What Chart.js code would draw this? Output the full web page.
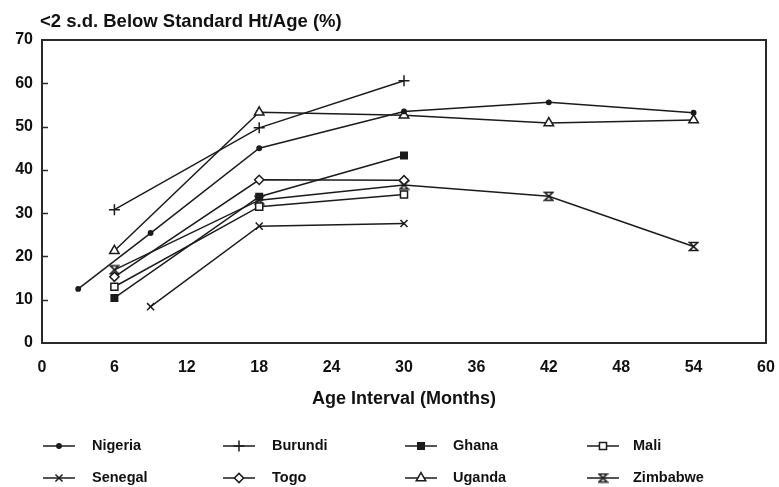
<!DOCTYPE html>
<html><head><meta charset="utf-8">
<script src="https://cdn.jsdelivr.net/npm/chart.js@4.4.0/dist/chart.umd.min.js"></script>
<style>html,body{margin:0;padding:0;background:#fff;}#wrap{width:779px;height:487px;position:relative;}</style>
</head><body><div id="wrap"><canvas id="c" width="779" height="487"></canvas></div>
<script>
// ---- data ----
const countries = ['Nigeria', 'Burundi', 'Ghana', 'Mali', 'Senegal', 'Togo', 'Uganda', 'Zimbabwe'];
const agesNigeria = [3, 9, 18, 30, 42, 54];
const nigeria = [12.5, 25.4, 45, 53.5, 55.6, 53.2];
const agesBurundi = [6, 18, 30];
const burundi = [30.8, 49.7, 60.6];
const agesGhana = [6, 18, 30];
const ghana = [10.4, 33.8, 43.3];
const agesMali = [6, 18, 30];
const mali = [13.0, 31.5, 34.3];
const agesSenegal = [9, 18, 30];
const senegal = [8.4, 27.0, 27.6];
const agesTogo = [6, 18, 30];
const togo = [15.3, 37.7, 37.6];
const agesUganda = [6, 18, 30, 42, 54];
const uganda = [21.3, 53.3, 52.6, 50.8, 51.5];
const agesZimbabwe = [6, 18, 30, 42, 54];
const zimbabwe = [16.9, 33.0, 36.5, 33.9, 22.3];
const xTickValues = [0, 6, 12, 18, 24, 30, 36, 42, 48, 54, 60];
const yTickValues = [0, 10, 20, 30, 40, 50, 60, 70];
const yTitle = '<2 s.d. Below Standard Ht/Age (%)';
const xTitle = 'Age Interval (Months)';

// ---- styling ----
const INK = '#1b1b1b';
const FONT = "'Liberation Sans', Arial, Helvetica, sans-serif";

function hourglass() {
  const c = document.createElement('canvas');
  c.width = 11; c.height = 11;
  const g = c.getContext('2d');
  g.strokeStyle = INK; g.lineWidth = 1.6;
  g.beginPath();
  g.moveTo(1.5, 1.5); g.lineTo(9.5, 1.5); g.lineTo(1.5, 9.5); g.lineTo(9.5, 9.5); g.closePath();
  g.stroke();
  return c;
}
const zimMarker = hourglass();

const markerStyles = {
  Nigeria:  {pointStyle: 'circle',  radius: 2.2, fill: INK},
  Burundi:  {pointStyle: 'cross',   radius: 5.5, fill: INK},
  Ghana:    {pointStyle: 'rect',    radius: 4.6, fill: INK},
  Mali:     {pointStyle: 'rect',    radius: 5,   fill: '#fff'},
  Senegal:  {pointStyle: 'crossRot',radius: 5,   fill: INK},
  Togo:     {pointStyle: 'rectRot', radius: 4.6, fill: '#fff'},
  Uganda:   {pointStyle: 'triangle',radius: 5.5, fill: '#fff'},
  Zimbabwe: {pointStyle: zimMarker, radius: 5,   fill: INK}
};

const seriesAges = [agesNigeria, agesBurundi, agesGhana, agesMali, agesSenegal, agesTogo, agesUganda, agesZimbabwe];
const seriesVals = [nigeria, burundi, ghana, mali, senegal, togo, uganda, zimbabwe];

const datasets = countries.map((name, i) => {
  const m = markerStyles[name];
  return {
    label: name,
    data: seriesAges[i].map((a, j) => ({x: a, y: seriesVals[i][j]})),
    borderColor: INK,
    borderWidth: 1.5,
    pointStyle: m.pointStyle,
    pointRadius: m.radius,
    pointHoverRadius: m.radius,
    pointBackgroundColor: m.fill,
    pointBorderColor: INK,
    pointBorderWidth: 1.5,
    tension: 0,
    fill: false
  };
});

const decor = {
  id: 'decor',
  afterDraw(chart) {
    const ctx = chart.ctx;
    const a = chart.chartArea;
    ctx.save();
    // frame
    ctx.strokeStyle = '#2a2a2a';
    ctx.lineWidth = 2;
    ctx.strokeRect(a.left, a.top, a.right - a.left, a.bottom - a.top);
    // inward y ticks
    const ys = chart.scales.y;
    ctx.lineWidth = 1.5;
    yTickValues.forEach(v => {
      if (v === 0 || v === 70) return;
      const p = Math.round(ys.getPixelForValue(v)) + 0.5;
      ctx.beginPath(); ctx.moveTo(a.left, p); ctx.lineTo(a.left + 6, p); ctx.stroke();
    });
    // y title at top-left
    ctx.fillStyle = '#111';
    ctx.font = "bold 18.5px " + FONT;
    ctx.textAlign = 'left'; ctx.textBaseline = 'middle';
    ctx.fillText(yTitle, 40, 22);
    // legend
    const cols = [{ix: 43, tx: 92}, {ix: 223, tx: 272}, {ix: 405, tx: 453}, {ix: 587, tx: 633}];
    const rows = [446, 478];
    ctx.font = "bold 14.5px " + FONT;
    countries.forEach((name, i) => {
      const c = cols[i % 4], y = rows[Math.floor(i / 4)];
      const m = markerStyles[name];
      ctx.strokeStyle = INK; ctx.lineWidth = 1.5;
      ctx.beginPath(); ctx.moveTo(c.ix, y); ctx.lineTo(c.ix + 32, y); ctx.stroke();
      ctx.fillStyle = m.fill;
      if (Chart.helpers && Chart.helpers.drawPoint) {
        Chart.helpers.drawPoint(ctx, {pointStyle: m.pointStyle, radius: m.radius, rotation: 0, borderWidth: 1.5}, c.ix + 16, y);
      }
      ctx.fillStyle = '#111';
      ctx.fillText(name, c.tx, y);
    });
    ctx.restore();
  }
};

new Chart(document.getElementById('c'), {
  type: 'line',
  data: {datasets},
  options: {
    responsive: false,
    animation: false,
    events: [],
    layout: {padding: {left: 0, right: 13, top: 40, bottom: 52}},
    plugins: {legend: {display: false}, tooltip: {enabled: false}, title: {display: false}},
    scales: {
      x: {
        type: 'linear', min: 0, max: 60,
        afterBuildTicks: s => { s.ticks = xTickValues.map(v => ({value: v})); },
        afterFit: s => { s.height = 92; s.paddingLeft = 0; s.paddingRight = 0; },
        grid: {display: false, drawTicks: false},
        border: {display: false},
        ticks: {color: '#111', padding: 15, font: {family: FONT, size: 16, weight: 'bold'}, maxRotation: 0, autoSkip: false},
        title: {display: true, text: xTitle, color: '#111', padding: {top: 0, bottom: 25}, font: {family: FONT, size: 18, weight: 'bold'}}
      },
      y: {
        type: 'linear', min: 0, max: 70,
        afterBuildTicks: s => { s.ticks = yTickValues.map(v => ({value: v})); },
        afterFit: s => { s.width = 42; s.paddingTop = 0; s.paddingBottom = 0; },
        grid: {display: false, drawTicks: false},
        border: {display: false},
        ticks: {color: '#111', padding: 9, font: {family: FONT, size: 16, weight: 'bold'}}
      }
    }
  },
  plugins: [decor]
});
</script></body></html>
